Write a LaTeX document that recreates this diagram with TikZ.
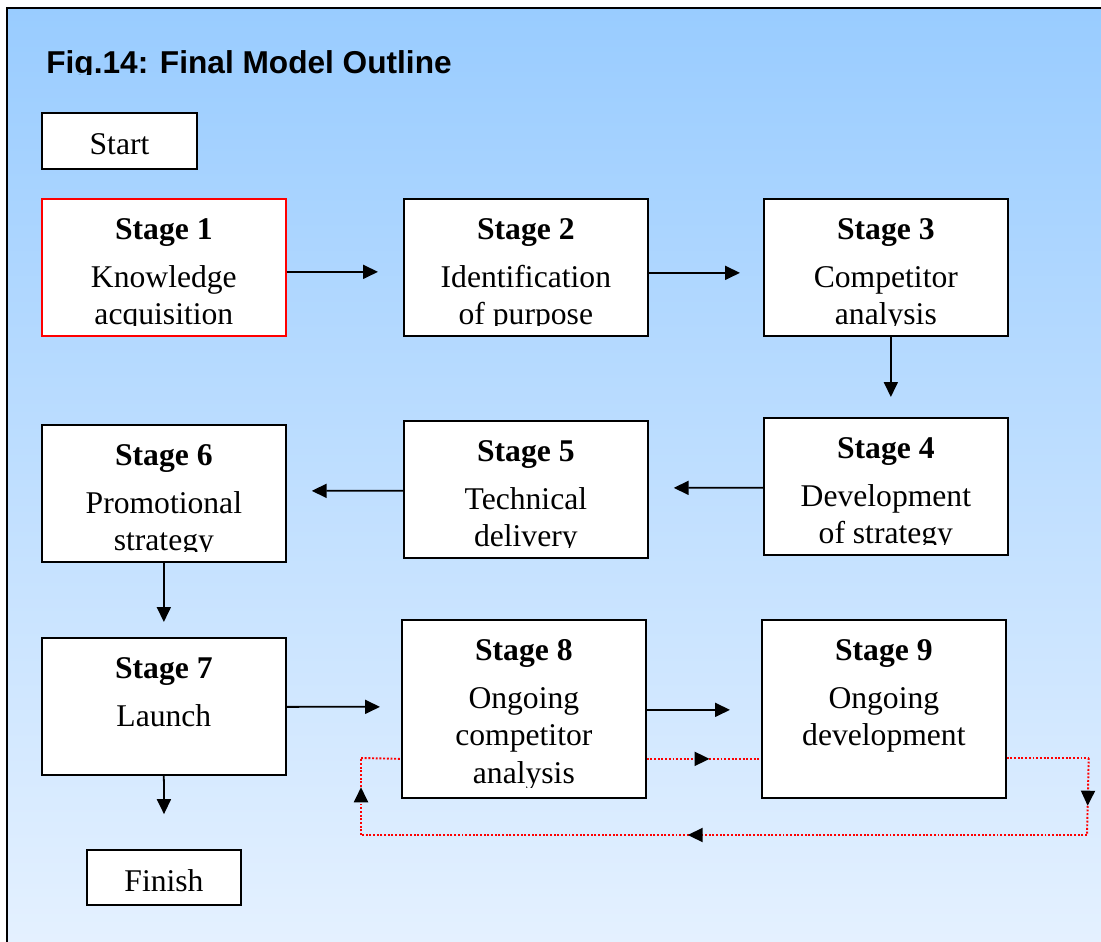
\documentclass[tikz,border=0pt]{standalone}
\usepackage{fontspec}
\setmainfont{Liberation Serif}
\setsansfont{Liberation Sans}
\usepackage{tikz}
\usetikzlibrary{calc}
\usetikzlibrary{arrows.meta}
\usetikzlibrary{decorations.markings}
\definecolor{skytop}{RGB}{153,204,255}
\definecolor{skybottom}{RGB}{229,241,255}
\tikzset{
  stagebox/.style={draw=black, line width=1pt, fill=white, anchor=north west, minimum width=4.88cm, inner sep=0pt},
  stagetext/.style={anchor=north, align=center, inner sep=0pt, font=\fontsize{18}{21.2}\selectfont},
  endbox/.style={draw=black, line width=1pt, fill=white, minimum width=3.1cm, minimum height=1.12cm, inner sep=0pt, text height=15.6pt, text depth=0pt, font=\fontsize{18}{21}\selectfont},
  flow/.style={line width=1pt, -{Triangle[length=0.3cm,width=0.28cm]}},
  backloop/.style={draw=red, line width=1.1pt, dash pattern=on 1.1pt off 1pt},
  midtip/.style={postaction={decorate}, decoration={markings, mark=at position #1 with {\arrow{Triangle[length=0.3cm,width=0.28cm,color=black]}}}}
}
\newcommand{\stage}[6][]{
  \node[stagebox, minimum height=#5, #1] (#2) at (#3,#4) {};
  \begin{scope}
    \clip ($(#2.south west)+(0,-11)$) rectangle (#2.north east);
    \node[stagetext] (#2t) at ($(#2.north)+(0,20.5)$) {#6};
  \end{scope}
}

\begin{document}
\begin{tikzpicture}[x=0.02cm, y=-0.02cm]
        \useasboundingbox (0,0) rectangle (1101,942);
        % background frame
        \draw[line width=1.2pt, top color=skytop, bottom color=skybottom] (7,8) rectangle (1112,952);

        % title
        \begin{scope}
          \clip (0,0) rectangle (1101,74.5);
          \node[anchor=base west, inner sep=0pt, font=\sffamily\bfseries\fontsize{18}{21}\selectfont] (title) at (46,74) {Fig.14: Final Model Outline};
        \end{scope}

        \node[endbox] (start) at (119.5,141) {Start};

        % row1
        \stage[draw=red]{s1}{41}{198}{2.74cm}{\textbf{Stage 1}\\[6pt] Knowledge\\ acquisition}
        \stage{s2}{403}{198}{2.74cm}{\textbf{Stage 2}\\[6pt] Identification\\ of purpose}
        \stage{s3}{763}{198}{2.74cm}{\textbf{Stage 3}\\[6pt] Competitor\\ analysis}

        % row2
        \stage{s4}{763}{417}{2.74cm}{\textbf{Stage 4}\\[6pt] Development\\ of strategy}
        \stage{s5}{403}{420}{2.74cm}{\textbf{Stage 5}\\[6pt] Technical\\ delivery}
        \stage{s6}{41}{424}{2.74cm}{\textbf{Stage 6}\\[6pt] Promotional\\ strategy}

        % row3
        \stage{s7}{41}{637}{2.74cm}{\textbf{Stage 7}\\[6pt] Launch}
        \stage{s8}{401}{619}{3.56cm}{\textbf{Stage 8}\\[6pt] Ongoing\\ competitor\\ analysis}
        \stage{s9}{761}{619}{3.56cm}{\textbf{Stage 9}\\[6pt] Ongoing\\ development}

        \node[endbox, minimum width=3.08cm, minimum height=1.1cm] (finish) at (164,877.5) {Finish};

        % arrows
        \draw[flow] ($(s1.east)+(0,4.5)$) -- ($(s2.west)+(-25,4.5)$);
        \draw[flow] ($(s2.east)+(0,5.5)$) -- ($(s3.west)+(-23,5.5)$);
        \draw[flow] ($(s3.south)+(5,0)$) -- ($(s4.north)+(5,-20)$);
        \draw[flow] ($(s4.west)+(0,1.5)$) -- ($(s5.east)+(25,-1.5)$);
        \draw[flow] ($(s5.west)+(0,1.5)$) -- ($(s6.east)+(25,-2.5)$);
        \draw[flow] (s6.south) -- ($(s7.north)+(0,-15)$);
        \draw[flow] ($(s7.east)+(0,0.5)$) -- ($(s8.west)+(-21,-2)$);
        \draw[flow] ($(s8.east)+(0,1)$) -- ($(s9.west)+(-31,1)$);
        \draw[flow] (s7.south) -- ($(finish.north)+(0,-35)$);

        % feedback loop
        \coordinate (loopne) at ($(s9.east)+(82,49)$);
        \coordinate (loopse) at (1087,835);
        \coordinate (loopsw) at (361,835);
        \coordinate (loopnw) at (361,758);
        \draw[backloop, midtip=0.55] ($(s8.east)+(0,50)$) -- ($(s9.west)+(0,50)$);
        \draw[backloop] ($(s9.east)+(0,49)$) -- (loopne);
        \draw[backloop, midtip=0.62] (loopne) -- (loopse);
        \draw[backloop, midtip=0.55] (loopse) -- (loopsw);
        \draw[backloop, midtip=0.62] (loopsw) -- (loopnw);
        \draw[backloop] (loopnw) -- ($(s8.west)+(0,50)$);

    \end{tikzpicture}
\end{document}
